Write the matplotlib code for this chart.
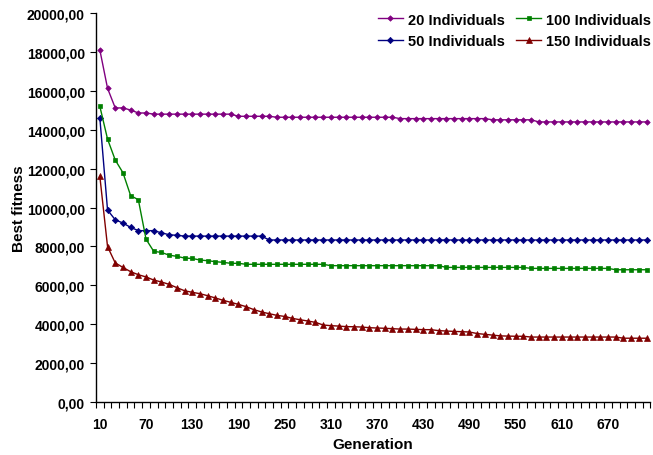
import matplotlib
matplotlib.use("Agg")
import matplotlib.pyplot as plt
from matplotlib.ticker import FuncFormatter, FixedLocator

generations = list(range(10, 730, 10))

ind20 = [18100, 16130, 15120, 15120, 15010, 14860, 14860,
         14800, 14800, 14800, 14800, 14800, 14800, 14800, 14800, 14800, 14800, 14800,
         14690, 14690, 14690, 14690, 14690,
         14640, 14640, 14640, 14640, 14640, 14640, 14640, 14640,
         14640, 14640, 14640, 14640, 14640, 14640, 14640, 14640,
         14570, 14570, 14570, 14570, 14570, 14570, 14570, 14570, 14570, 14570, 14570, 14570,
         14510, 14510, 14510, 14510, 14510, 14510,
         14400, 14400, 14400, 14400, 14400, 14400, 14400, 14400, 14400, 14400,
         14400, 14400, 14400, 14400, 14400]

ind50 = [14600, 9870, 9370, 9200, 8980, 8810, 8810, 8810, 8700, 8600, 8570,
         8530, 8530, 8530, 8530, 8530, 8530, 8530, 8530, 8530, 8530, 8530,
         8330, 8330, 8330, 8330, 8330, 8330, 8330, 8330, 8330, 8330,
         8330, 8330, 8330, 8330, 8330, 8330, 8330, 8330, 8330, 8330,
         8330, 8330, 8330, 8330, 8330, 8330, 8330, 8330, 8330, 8330,
         8330, 8330, 8330, 8330, 8330, 8330, 8330, 8330, 8330, 8330,
         8330, 8330, 8330, 8330, 8330, 8330, 8330, 8330, 8330, 8330]

ind100 = [15200, 13520, 12440, 11790, 10610, 10400, 8370, 7745, 7690, 7550,
          7490, 7400, 7380, 7300, 7265, 7215, 7180, 7130, 7130,
          7080, 7080, 7080, 7080, 7080, 7080, 7080, 7080, 7080, 7080, 7080,
          7010, 7010, 7010, 7010, 7010, 7010, 7010, 7010, 7010, 7010,
          7010, 7010, 7010, 7010, 7010,
          6920, 6920, 6920, 6920, 6920, 6920, 6920, 6920, 6920, 6920, 6920,
          6870, 6870, 6870, 6870, 6870, 6870, 6870, 6870, 6870, 6870, 6870,
          6800, 6800, 6800, 6800, 6800]

ind150 = [11600, 7990, 7150, 6920, 6700, 6545, 6430, 6270, 6170, 6050,
          5880, 5720, 5640, 5570, 5465, 5350, 5230, 5125, 5020, 4900,
          4750, 4630, 4540, 4455, 4400, 4300, 4230, 4165, 4095, 3960,
          3925, 3905, 3875, 3870, 3855, 3820, 3805, 3790, 3770, 3750,
          3750, 3735, 3720, 3720, 3670, 3650, 3630, 3615, 3600, 3520,
          3480, 3440, 3400, 3390, 3380, 3380,
          3340, 3340, 3340, 3340, 3340, 3340, 3340, 3340, 3340, 3340, 3340, 3340,
          3280, 3280, 3280, 3280]

series_labels = ["20 Individuals", "50 Individuals", "100 Individuals", "150 Individuals"]
colors = ["#800080", "#000080", "#008000", "#800000"]
markers = ["D", "D", "s", "^"]
msizes = [2.8, 3.2, 3.2, 3.8]

plt.rcParams['font.family'] = ['Liberation Sans', 'DejaVu Sans']

fig = plt.figure(figsize=(6.53, 4.56), dpi=100)
ax = fig.add_axes([0.147, 0.1162, 0.849, 0.8531])

x = list(range(len(generations)))
for data, lab, c, m, ms in zip([ind20, ind50, ind100, ind150], series_labels, colors, markers, msizes):
    ax.plot(x, data, color=c, marker=m, markersize=ms, linewidth=1.0, label=lab,
            markeredgewidth=0.5)

ax.set_xlim(-0.5, len(generations) - 0.5)
ax.set_ylim(0, 20000)
ax.set_yticks(range(0, 20001, 2000))
ax.yaxis.set_major_formatter(FuncFormatter(lambda v, p: f"{v:.2f}".replace(".", ",")))

major_pos = x[::6]
ax.xaxis.set_major_locator(FixedLocator(major_pos))
ax.set_xticklabels([str(generations[i]) for i in major_pos])
ax.xaxis.set_minor_locator(FixedLocator([i - 0.5 for i in range(len(generations) + 1)]))
ax.tick_params(axis='x', which='major', length=0, pad=11, labelsize=10)
ax.tick_params(axis='x', which='minor', length=4, direction='out', width=0.8)
ax.tick_params(axis='y', which='major', length=4, direction='out', width=0.8, labelsize=10, pad=4)
for lbl in ax.get_xticklabels() + ax.get_yticklabels():
    lbl.set_fontweight('bold')

for s in ['top', 'right']:
    ax.spines[s].set_visible(False)
for s in ['left', 'bottom']:
    ax.spines[s].set_linewidth(1.0)

ax.set_xlabel("Generation", fontsize=11, fontweight='bold')
ax.set_ylabel("Best fitness", fontsize=11, fontweight='bold')
ax.xaxis.set_label_coords(0.5, -0.09)
ax.yaxis.set_label_coords(-0.127, 0.50)

leg = ax.legend(ncol=2, loc='upper right', frameon=False, prop={'weight': 'bold', 'size': 10.5},
                bbox_to_anchor=(1.025, 1.035), handlelength=1.7, columnspacing=0.8,
                labelspacing=0.5, handletextpad=0.35)

fig.savefig("out.png", dpi=100)
